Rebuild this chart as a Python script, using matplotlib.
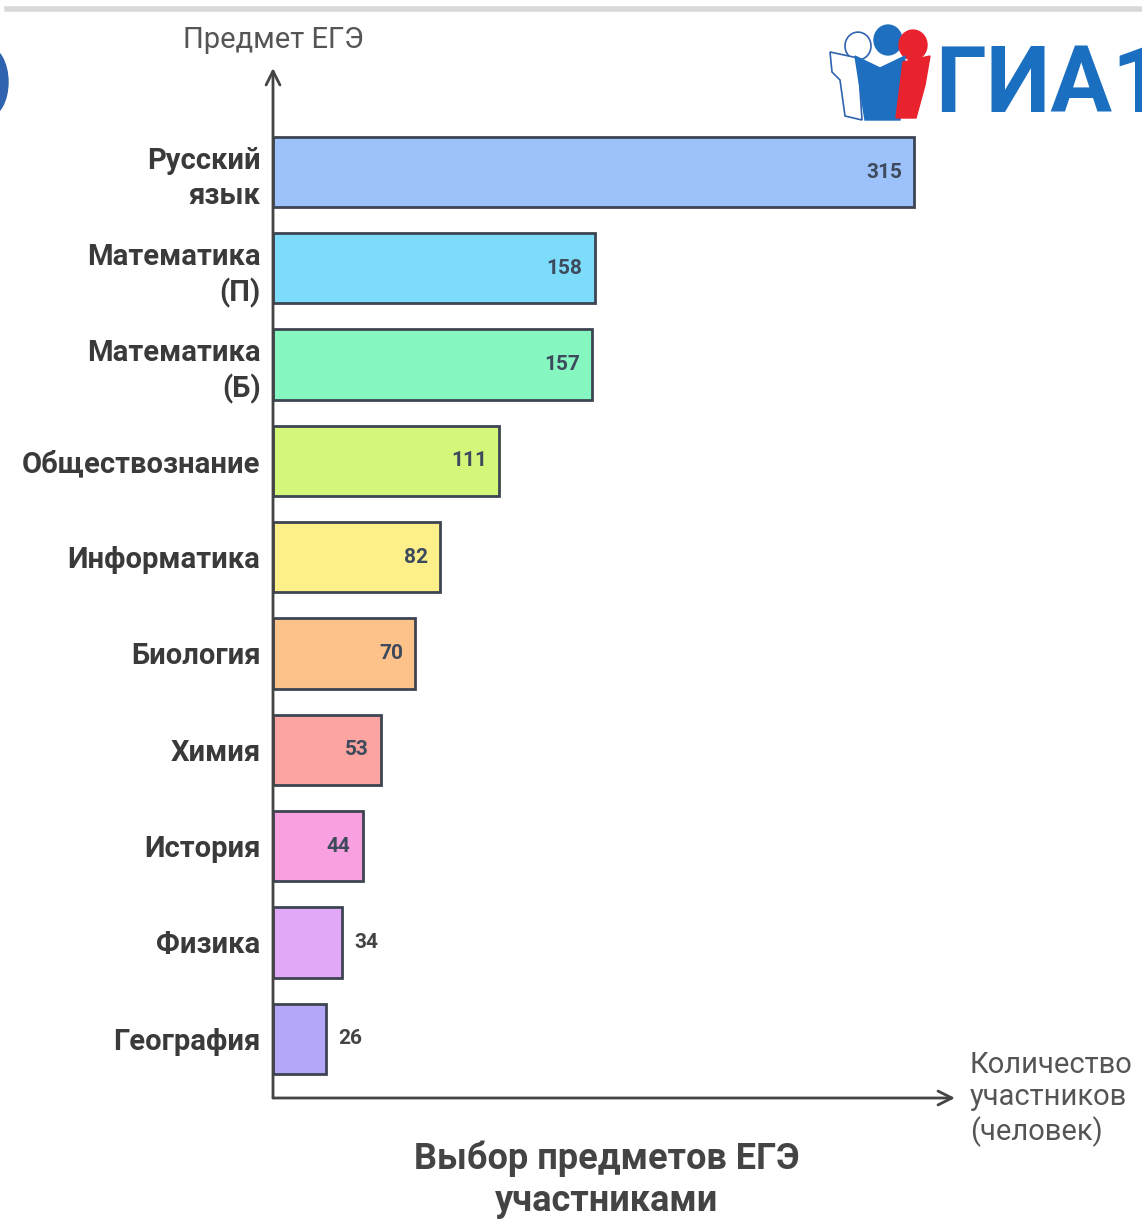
import matplotlib
matplotlib.use("Agg")
import matplotlib.pyplot as plt
from matplotlib.patches import Circle, Polygon, Ellipse

plt.rcParams['font.family'] = ['Roboto', 'DejaVu Sans']

# data
subjects = ["Русский\nязык", "Математика\n(П)", "Математика\n(Б)", "Обществознание",
            "Информатика", "Биология", "Химия", "История", "Физика", "География"]
counts = [315, 158, 157, 111, 82, 70, 53, 44, 34, 26]
colors = ["#9dc2fb", "#7ddcfa", "#86f7c0", "#d4f77a", "#fdf08a",
          "#fdc28a", "#fca5a0", "#f9a1e0", "#e2a8f8", "#b4a7f7"]

W, H = 1142, 1220
fig = plt.figure(figsize=(W / 100, H / 100), dpi=100)


def fx(x):
    return x / W


def fy(y):
    return 1 - y / H


# axes box: y axis at x=273, x axis at y=1098
ax = fig.add_axes([fx(273), fy(1098), fx(955) - fx(273), fy(68) - fy(1098)])
scale = (914 - 273) / 315
ax.set_xlim(0, (955 - 273) / scale)
ax.set_ylim((1098 - 172) / 96.3, (68 - 172) / 96.3)

pos = list(range(len(subjects)))
ax.barh(pos, counts, height=0.73, color=colors, edgecolor="#3d4452", linewidth=2, zorder=2)

for i, v in enumerate(counts):
    if v >= 40:
        ax.text(v - 12 / scale, i, str(v), ha="right", va="center",
                fontsize=15, fontweight="bold", color="#3d4a5c")
    else:
        ax.text(v + 12 / scale, i, str(v), ha="left", va="center",
                fontsize=15, fontweight="bold", color="#444444")

ax.set_yticks(pos)
ax.set_yticklabels(subjects, fontsize=21, fontweight="bold", color="#3a3a3a",
                   linespacing=1.3)
for t in ax.get_yticklabels():
    t.set_multialignment("right")
ax.tick_params(axis="y", length=0, pad=9)
ax.set_xticks([])
for s in ax.spines.values():
    s.set_visible(False)

# axes with arrows
ax.annotate("", xy=(0, 1), xytext=(0, 0), xycoords="axes fraction",
            arrowprops=dict(arrowstyle="->", color="#444444", lw=2,
                            mutation_scale=25, shrinkA=0, shrinkB=0))
ax.annotate("", xy=(1, 0), xytext=(0, 0), xycoords="axes fraction",
            arrowprops=dict(arrowstyle="->", color="#444444", lw=2,
                            mutation_scale=25, shrinkA=0, shrinkB=0))

fig.text(fx(273), fy(40), "Предмет ЕГЭ", ha="center", va="center",
         fontsize=21, color="#555555")
fig.text(fx(970), fy(1099), "Количество\nучастников\n(человек)", ha="left", va="center",
         fontsize=21, color="#555555", linespacing=1.2)
fig.text(fx(607), fy(1180), "Выбор предметов ЕГЭ\nучастниками", ha="center", va="center",
         fontsize=26, fontweight="bold", color="#444444", linespacing=1.2)

# top gray strip
fig.add_artist(plt.Line2D([fx(7), 1], [fy(9), fy(9)], color="#d8d8d8", lw=4))

# partial blue shape at left edge
fig.add_artist(Ellipse((fx(-12), fy(82)), 40 / W, 70 / H, color="#2f63b0"))

# logo
fig.add_artist(Circle((fx(858), fy(46)), 13 / W, facecolor="white", edgecolor="#2f63b0", lw=1.2))
fig.add_artist(Circle((fx(888), fy(40)), 14 / W, color="#1f6fc0"))
fig.add_artist(Circle((fx(913), fy(45)), 14 / W, color="#e8232d"))
fig.add_artist(Polygon([(fx(830), fy(52)), (fx(858), fy(58)), (fx(862), fy(120)),
                        (fx(845), fy(116)), (fx(840), fy(80)), (fx(832), fy(72))],
                       closed=True, facecolor="white", edgecolor="#2f63b0", lw=1.2))
fig.add_artist(Polygon([(fx(855), fy(56)), (fx(880), fy(68)), (fx(905), fy(56)),
                        (fx(900), fy(120)), (fx(865), fy(120))],
                       closed=True, color="#1f6fc0"))
fig.add_artist(Polygon([(fx(903), fy(62)), (fx(930), fy(56)), (fx(925), fy(85)),
                        (fx(916), fy(118)), (fx(896), fy(118))],
                       closed=True, color="#e8232d"))
fig.text(fx(935), fy(112), "ГИА1", ha="left", va="baseline",
         fontsize=66, fontweight="bold", color="#1a6fc0")

fig.savefig("out.png", dpi=100, facecolor="white")
